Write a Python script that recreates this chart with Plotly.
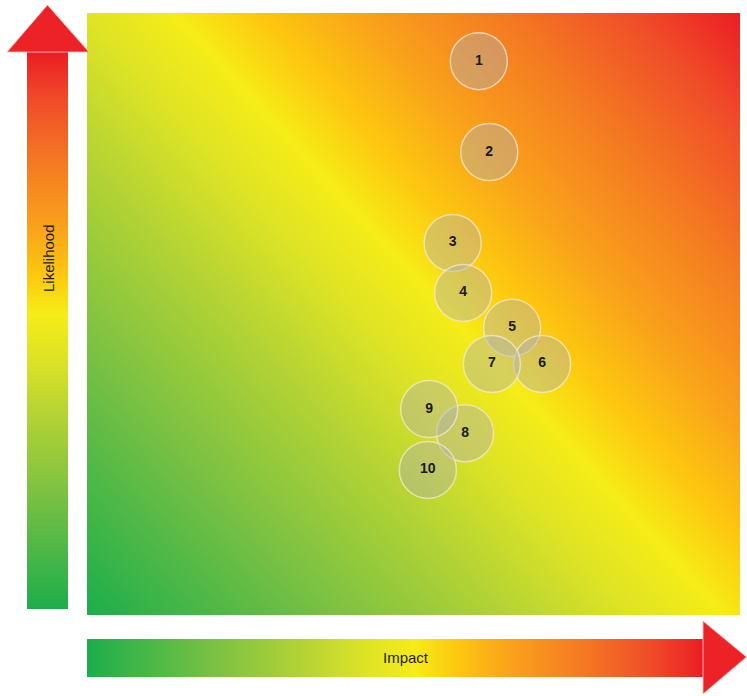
import numpy as np
import plotly.graph_objects as go

# ---- data ----
risk_ids = ["1", "2", "3", "4", "5", "6", "7", "8", "9", "10"]
impact = [6.00, 6.16, 5.60, 5.76, 6.51, 6.97, 6.20, 5.79, 5.24, 5.22]
likelihood = [9.20, 7.69, 6.18, 5.35, 4.77, 4.17, 4.17, 3.02, 3.42, 2.41]
x_title = "Impact"
y_title = "Likelihood"

# ---- styling ----
W, H = 747, 696
def px(x):
    return x / W
def py(y):
    return 1 - y / H

colorscale = [[0, '#1cae4b'], [0.2, '#78c043'], [0.35, '#b4d334'], [0.45, '#dde325'],
              [0.53, '#f6ec17'], [0.60, '#fdc70f'], [0.69, '#f9a01b'], [0.80, '#f47a21'],
              [0.91, '#f04d29'], [1, '#ec1c24']]

fig = go.Figure()

# decorative diagonal gradient background of the matrix
gx = np.linspace(-0.5, 10.5, 23)
gy = np.linspace(-0.5, 10.5, 23)
GX, GY = np.meshgrid(gx, gy)
bg = (GX / 10 + 0.843 * GY / 10) / 1.843
fig.add_trace(go.Heatmap(x=gx, y=gy, z=bg, zmin=0, zmax=1, colorscale=colorscale,
                         zsmooth='best', showscale=False, hoverinfo='skip',
                         xaxis='x', yaxis='y'))

# vertical arrow shaft gradient
vy = np.linspace(-0.05, 1.05, 23)
vx = np.array([-0.1, 1.1])
VX, VY = np.meshgrid(vx, vy)
fig.add_trace(go.Heatmap(x=vx, y=vy, z=VY, zmin=0, zmax=1, colorscale=colorscale,
                         zsmooth='best', showscale=False, hoverinfo='skip',
                         xaxis='x2', yaxis='y2'))

# horizontal arrow shaft gradient
hx = np.linspace(-0.05, 1.05, 23)
hy = np.array([-0.1, 1.1])
HX, HY = np.meshgrid(hx, hy)
fig.add_trace(go.Heatmap(x=hx, y=hy, z=HX, zmin=0, zmax=1, colorscale=colorscale,
                         zsmooth='best', showscale=False, hoverinfo='skip',
                         xaxis='x3', yaxis='y3'))

# risks
fig.add_trace(go.Scatter(
    x=impact, y=likelihood, mode='markers+text', text=risk_ids,
    textposition='middle center',
    textfont=dict(family='Liberation Sans, Arial, sans-serif', size=14,
                  color='#1a1a1a', weight='bold'),
    marker=dict(size=57, color='rgba(175,175,175,0.44)',
                line=dict(color='rgba(245,232,208,0.75)', width=1.5)),
    hoverinfo='text', showlegend=False, xaxis='x', yaxis='y'))

hidden = dict(visible=False, showgrid=False, zeroline=False, fixedrange=True)
fig.update_layout(
    width=W, height=H, autosize=False,
    margin=dict(l=0, r=0, t=0, b=0),
    paper_bgcolor='white', plot_bgcolor='rgba(0,0,0,0)',
    showlegend=False,
    xaxis=dict(domain=[px(87), px(740)], range=[0, 10], **hidden),
    yaxis=dict(domain=[py(615), py(13)], range=[0, 10], **hidden),
    xaxis2=dict(domain=[px(27), px(68)], range=[0, 1], anchor='y2', **hidden),
    yaxis2=dict(domain=[py(609), py(51)], range=[0, 1], anchor='x2', **hidden),
    xaxis3=dict(domain=[px(87), px(704)], range=[0, 1], anchor='y3', **hidden),
    yaxis3=dict(domain=[py(677), py(639)], range=[0, 1], anchor='x3', **hidden),
)

# arrow heads
up_head = "M {},{} L {},{} L {},{} Z".format(px(7), py(52), px(47.5), py(5), px(89), py(52))
right_head = "M {},{} L {},{} L {},{} Z".format(px(703), py(621), px(746.5), py(657), px(703), py(694))
for p in (up_head, right_head):
    fig.add_shape(type='path', path=p, xref='paper', yref='paper',
                  fillcolor='#ec2226', line=dict(color='rgba(250,190,190,0.9)', width=1),
                  layer='above')

fig.add_annotation(text=x_title, x=px(406), y=py(657), xref='paper', yref='paper',
                   showarrow=False, xanchor='center', yanchor='middle',
                   font=dict(family='Liberation Sans, Arial, sans-serif', size=15, color='#231f20'))
fig.add_annotation(text=y_title, x=px(48), y=py(258), xref='paper', yref='paper',
                   showarrow=False, xanchor='center', yanchor='middle', textangle=-90,
                   font=dict(family='Liberation Sans, Arial, sans-serif', size=15, color='#231f20'))

fig.write_html("out.html",
               config={'displayModeBar': False, 'staticPlot': False},
               post_script="document.body.style.margin='0px';document.body.style.overflow='hidden';")
